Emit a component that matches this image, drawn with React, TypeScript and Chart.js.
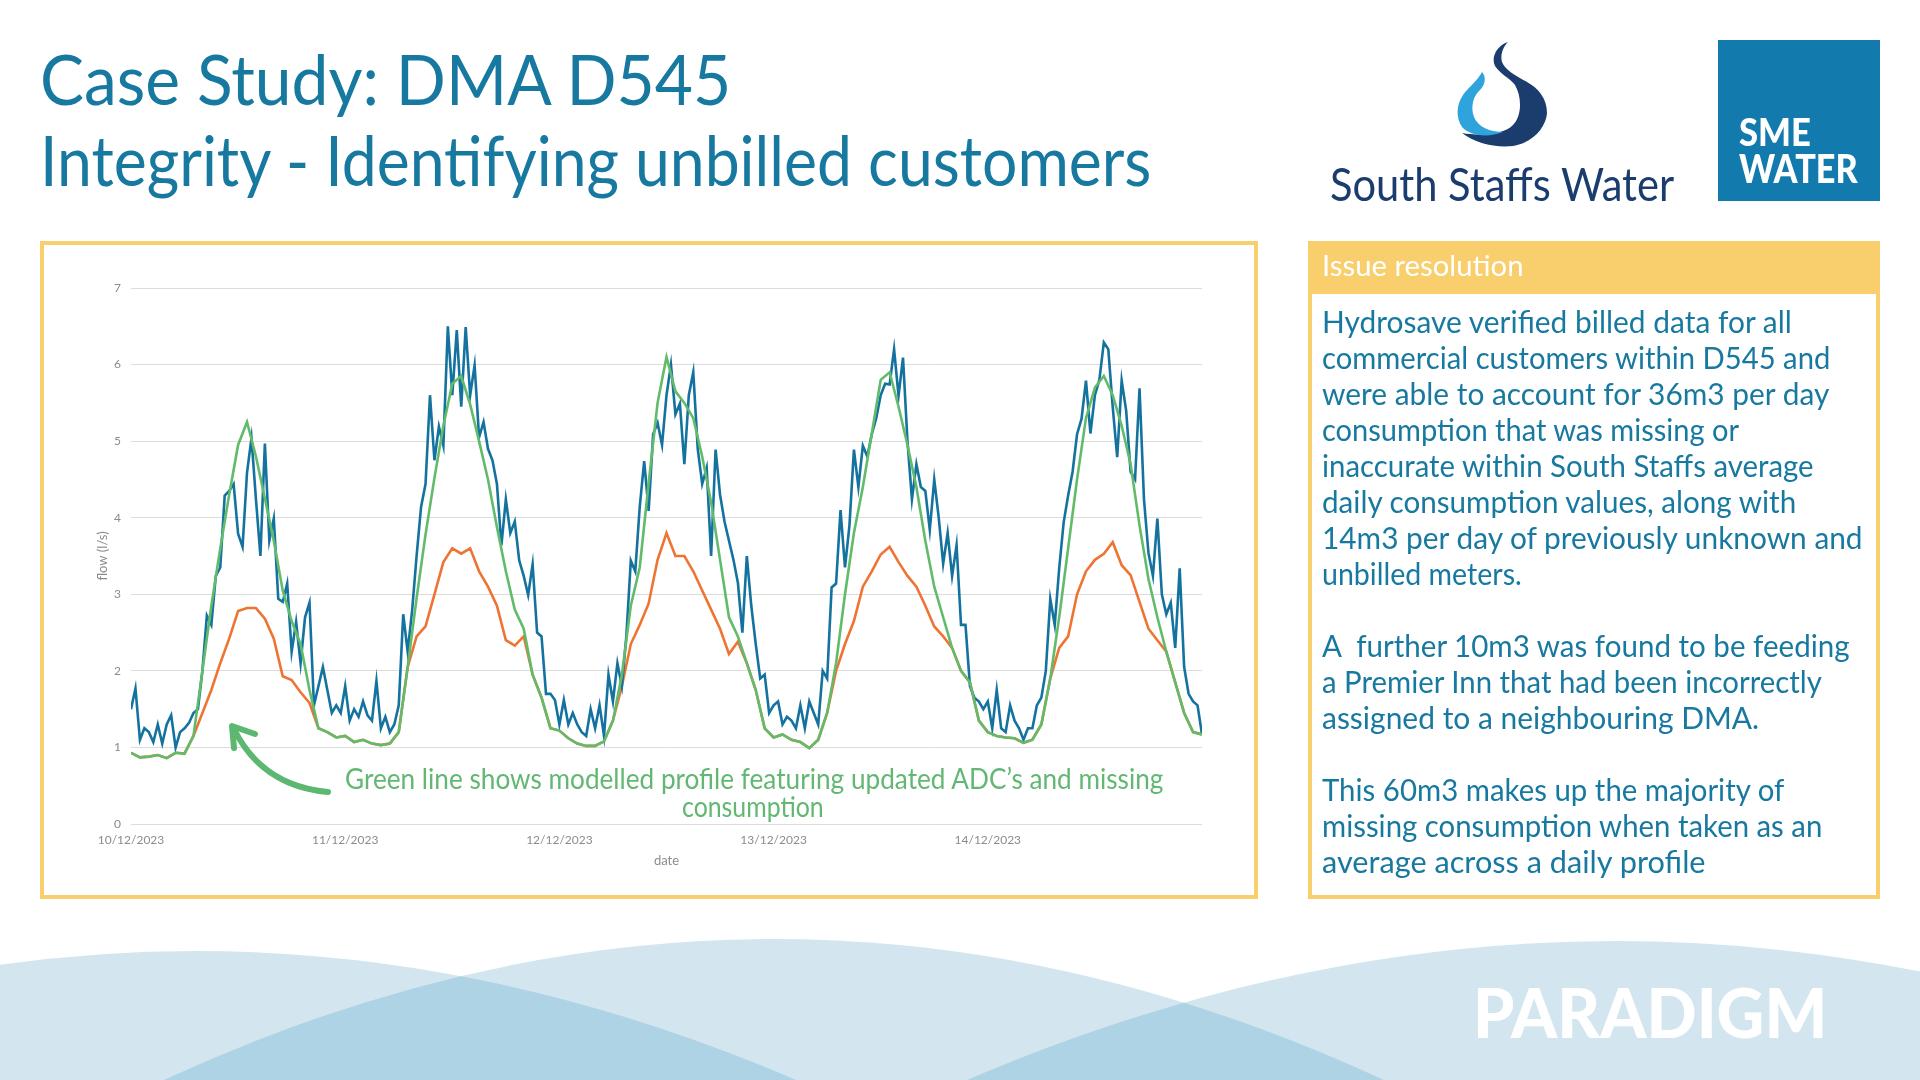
import React, { useEffect, useLayoutEffect, useRef } from 'react';
import { Chart, registerables } from 'chart.js';

Chart.register(...registerables);

// ---------- DATA ----------
const dateLabels = ['10/12/2023', '11/12/2023', '12/12/2023', '13/12/2023', '14/12/2023'];

// hourly modelled profile (green), hours 0..120
const greenModelled = [
  0.93, 0.87, 0.88, 0.9, 0.86, 0.93, 0.92, 1.15, 2.0, 2.85, 3.6, 4.3, 4.95, 5.25, 4.8, 4.25, 3.7, 3.05, 2.65, 2.35, 1.75, 1.25, 1.2, 1.13,
  1.15, 1.07, 1.1, 1.05, 1.03, 1.05, 1.2, 2.05, 2.95, 3.78, 4.52, 5.2, 5.75, 5.85, 5.48, 5.0, 4.5, 3.88, 3.3, 2.8, 2.55, 1.95, 1.65, 1.25,
  1.22, 1.12, 1.05, 1.02, 1.02, 1.08, 1.35, 1.95, 2.85, 3.35, 4.45, 5.5, 6.1, 5.65, 5.5, 5.3, 4.8, 4.2, 3.45, 2.7, 2.45, 2.1, 1.75, 1.25,
  1.13, 1.17, 1.1, 1.07, 0.99, 1.1, 1.45, 2.1, 3.0, 3.8, 4.4, 5.1, 5.8, 5.9, 5.45, 4.95, 4.4, 3.7, 3.1, 2.7, 2.3, 2.0, 1.85, 1.35,
  1.2, 1.15, 1.13, 1.12, 1.06, 1.1, 1.3, 1.9, 2.7, 3.6, 4.5, 5.3, 5.7, 5.85, 5.6, 5.2, 4.7, 3.9, 3.2, 2.7, 2.25, 1.85, 1.45, 1.2,
  1.17,
];

// hourly original profile (orange), hours 0..120
const orangeOriginal = [
  0.93, 0.87, 0.88, 0.9, 0.86, 0.93, 0.92, 1.15, 1.45, 1.75, 2.1, 2.42, 2.78, 2.82, 2.82, 2.68, 2.42, 1.93, 1.88, 1.72, 1.58, 1.25, 1.2, 1.13,
  1.15, 1.07, 1.1, 1.05, 1.03, 1.05, 1.2, 2.05, 2.45, 2.58, 3.0, 3.42, 3.6, 3.53, 3.6, 3.3, 3.1, 2.85, 2.4, 2.33, 2.45, 1.95, 1.65, 1.25,
  1.22, 1.12, 1.05, 1.02, 1.02, 1.08, 1.35, 1.8, 2.35, 2.6, 2.88, 3.45, 3.8, 3.5, 3.5, 3.3, 3.05, 2.8, 2.55, 2.22, 2.38, 2.1, 1.75, 1.25,
  1.13, 1.17, 1.1, 1.07, 0.99, 1.1, 1.45, 2.0, 2.35, 2.65, 3.1, 3.3, 3.52, 3.62, 3.42, 3.24, 3.1, 2.85, 2.58, 2.45, 2.3, 2.0, 1.85, 1.35,
  1.2, 1.15, 1.13, 1.12, 1.06, 1.1, 1.3, 1.9, 2.3, 2.45, 3.0, 3.3, 3.45, 3.53, 3.68, 3.38, 3.25, 2.9, 2.55, 2.4, 2.25, 1.85, 1.45, 1.2,
  1.17,
];

// half-hourly measured flow (blue), half-hours 0..240
const blueMeasured = [
  1.5, 1.77, 1.1, 1.25, 1.2, 1.07, 1.3, 1.05, 1.3, 1.42, 1.0, 1.2, 1.25, 1.32, 1.45, 1.5, 2.0, 2.72, 2.6, 3.24,
  3.35, 4.29, 4.35, 4.44, 3.79, 3.62, 4.59, 5.04, 4.24, 3.5, 4.97, 3.7, 3.99, 2.94, 2.9, 3.14, 2.25, 2.64, 2.1, 2.7,
  2.89, 1.55, 1.8, 2.05, 1.75, 1.45, 1.55, 1.45, 1.8, 1.35, 1.5, 1.4, 1.6, 1.42, 1.35, 1.87, 1.25, 1.4, 1.2, 1.3,
  1.55, 2.74, 2.25, 2.79, 3.5, 4.14, 4.44, 5.6, 4.75, 5.19, 4.94, 6.5, 5.6, 6.45, 5.45, 6.49, 5.6, 5.99, 5.05, 5.25,
  4.9, 4.75, 4.44, 3.64, 4.24, 3.8, 3.95, 3.44, 3.24, 2.99, 3.39, 2.5, 2.45, 1.7, 1.7, 1.62, 1.3, 1.62, 1.3, 1.45,
  1.3, 1.2, 1.15, 1.5, 1.25, 1.55, 1.15, 1.95, 1.6, 2.1, 1.8, 2.45, 3.44, 3.3, 4.14, 4.74, 4.09, 5.09, 5.24, 4.95,
  5.6, 6.0, 5.35, 5.49, 4.7, 5.6, 5.9, 4.9, 4.44, 4.65, 3.5, 4.89, 4.3, 3.95, 3.7, 3.45, 3.15, 2.5, 3.5, 2.85,
  2.35, 1.9, 1.95, 1.45, 1.55, 1.6, 1.3, 1.4, 1.35, 1.25, 1.55, 1.25, 1.6, 1.45, 1.3, 2.0, 1.9, 3.09, 3.14, 4.1,
  3.35, 3.9, 4.89, 4.4, 4.94, 4.8, 5.09, 5.3, 5.6, 5.75, 5.74, 6.2, 5.59, 6.09, 5.0, 4.24, 4.7, 4.4, 4.35, 3.84,
  4.5, 4.0, 3.4, 3.8, 3.24, 3.64, 2.6, 2.6, 1.8, 1.65, 1.6, 1.5, 1.6, 1.25, 1.75, 1.25, 1.2, 1.55, 1.35, 1.25,
  1.1, 1.25, 1.25, 1.55, 1.65, 2.0, 2.94, 2.6, 3.34, 3.94, 4.29, 4.6, 5.09, 5.29, 5.79, 5.1, 5.6, 5.8, 6.29, 6.2,
  5.44, 4.79, 5.79, 5.4, 4.6, 4.5, 5.69, 4.24, 3.54, 3.24, 3.99, 3.0, 2.74, 2.89, 2.3, 3.34, 2.05, 1.7, 1.6, 1.55,
  1.17,
];

const bodyLines = [
  'Hydrosave verified billed data for all',
  'commercial customers within D545 and',
  'were able to account for 36m3 per day',
  'consumption that was missing or',
  'inaccurate within South Staffs average',
  'daily consumption values, along with',
  '14m3 per day of previously unknown and',
  'unbilled meters.',
  '',
  'A  further 10m3 was found to be feeding',
  'a Premier Inn that had been incorrectly',
  'assigned to a neighbouring DMA.',
  '',
  'This 60m3 makes up the majority of',
  'missing consumption when taken as an',
  'average across a daily profile',
];
const bodyWidths = [470, 508, 507, 417, 492, 474, 541, 200, 0, 528, 500, 437, 0, 462, 500, 384];

// ---------- COLOURS ----------
const TEAL = '#1879a0';
const YELLOW = '#f8cf6c';
const BLUE_LINE = '#14729f';
const GREEN_LINE = '#62bb6b';
const ORANGE_LINE = '#ee7433';
const GREEN_TEXT = '#62b873';
const GREY = '#8c8c8c';

// ---------- Text fitted to a width ----------
type TxtProps = {
  x: number;
  base: number;
  fs: number;
  w: number;
  color: string;
  weight?: number;
  family?: string;
  text: string;
};

function Txt({ x, base, fs, w, color, weight = 400, family = 'Lato', text }: TxtProps) {
  const ref = useRef<HTMLDivElement>(null);
  useLayoutEffect(() => {
    const el = ref.current;
    if (!el) return;
    const apply = () => {
      el.style.transform = 'none';
      const nat = el.offsetWidth;
      if (nat > 0 && w > 0) el.style.transform = `scaleX(${w / nat})`;
    };
    apply();
    const fonts = (document as any).fonts;
    if (fonts && fonts.ready) fonts.ready.then(apply);
  }, [w, text, fs]);
  return (
    <div
      ref={ref}
      style={{
        position: 'absolute',
        left: x,
        top: base - 0.987 * fs,
        fontFamily: family,
        fontSize: fs,
        fontWeight: weight,
        lineHeight: `${1.2 * fs}px`,
        color,
        whiteSpace: 'pre',
        transformOrigin: '0 0',
        display: 'inline-block',
      }}
    >
      {text}
    </div>
  );
}

// ---------- Chart ----------
function FlowChart() {
  const ref = useRef<HTMLCanvasElement>(null);
  useEffect(() => {
    if (!ref.current) return;
    const tickFont = { family: 'Lato', size: 12 };
    const titleFont = { family: 'Lato', size: 13 };
    const chart = new Chart(ref.current, {
      type: 'line',
      data: {
        datasets: [
          {
            label: 'Modelled profile (updated ADCs + missing consumption)',
            data: greenModelled.map((y, i) => ({ x: i, y })),
            borderColor: GREEN_LINE,
            borderWidth: 2.6,
          },
          {
            label: 'Measured flow',
            data: blueMeasured.map((y, i) => ({ x: i / 2, y })),
            borderColor: BLUE_LINE,
            borderWidth: 2.6,
          },
          {
            label: 'Original modelled profile',
            data: orangeOriginal.map((y, i) => ({ x: i, y })),
            borderColor: ORANGE_LINE,
            borderWidth: 2.6,
          },
        ],
      },
      options: {
        animation: false,
        responsive: false,
        devicePixelRatio: 1,
        layout: { padding: { left: 45, right: 52, top: 43, bottom: 0 } },
        plugins: { legend: { display: false }, tooltip: { enabled: false } },
        elements: { point: { radius: 0 }, line: { tension: 0 } },
        scales: {
          x: {
            type: 'linear',
            min: 0,
            max: 120,
            grid: { display: false, drawTicks: false },
            border: { display: false },
            ticks: {
              stepSize: 24,
              autoSkip: false,
              maxRotation: 0,
              padding: 9,
              color: GREY,
              font: tickFont,
              callback: (v: any) => dateLabels[Math.round(Number(v) / 24)] ?? '',
            },
            title: { display: true, text: 'date', color: GREY, font: titleFont, padding: { top: 0, bottom: 26 } },
            afterFit: (s: any) => {
              s.height = 71;
            },
          },
          y: {
            min: 0,
            max: 7,
            grid: { color: '#dcdcdc', drawTicks: false, lineWidth: 1 },
            border: { display: false },
            ticks: { stepSize: 1, padding: 10, color: GREY, font: tickFont },
            title: { display: true, text: 'flow (l/s)', color: GREY, font: titleFont, padding: { top: 6, bottom: 0 } },
            afterFit: (s: any) => {
              s.width = 42;
            },
          },
        },
      } as any,
    });
    return () => chart.destroy();
  }, []);
  return (
    <canvas
      ref={ref}
      width={1210}
      height={650}
      style={{ position: 'absolute', left: 44, top: 245, width: 1210, height: 650 }}
    />
  );
}

// ---------- App ----------
export default function App() {
  const hill = (c: number, h: number, half: number) => `M ${c - half} 1080 Q ${c} ${1080 - 2 * h} ${c + half} 1080 Z`;
  const h1 = hill(196, 129, 600);
  const h2 = hill(774, 141, 610);
  const h3 = hill(1616, 139, 649);
  const bodyBase0 = 334;
  return (
    <div
      style={{
        position: 'fixed',
        left: 0,
        top: 0,
        width: 1920,
        height: 1080,
        background: '#ffffff',
        overflow: 'hidden',
      }}
    >
      {/* background waves & logos */}
      <svg width={1920} height={1080} viewBox="0 0 1920 1080" style={{ position: 'absolute', left: 0, top: 0 }}>
        <defs>
          <clipPath id="c1">
            <path d={h1} />
          </clipPath>
          <clipPath id="c2">
            <path d={h2} />
          </clipPath>
        </defs>
        <path d={h1} fill="#d3e6ef" />
        <path d={h2} fill="#d3e6ef" />
        <path d={h3} fill="#d3e6ef" />
        <path d={h2} fill="#aed3e4" clipPath="url(#c1)" />
        <path d={h3} fill="#aed3e4" clipPath="url(#c2)" />
        {/* South Staffs drop */}
        <path
          d="M1508,42 C1496,46 1491,58 1495,66 C1500,74 1510,78 1515,85 C1522,97 1522,116 1513,125 C1503,135 1480,136 1462,133 C1475,143 1495,148 1513,146 C1532,143 1546,128 1547,113 C1547,98 1538,88 1527,82 C1516,76 1505,70 1502,62 C1500,55 1503,47 1508,42 Z"
          fill="#1b3d6e"
        />
        <path
          d="M1482,72 C1478,80 1468,88 1463,95 C1456,105 1456,118 1462,127 C1470,136 1488,138 1503,132 C1490,132 1478,127 1474,117 C1470,106 1474,95 1480,90 C1486,84 1486,76 1482,72 Z"
          fill="#2fa4dc"
        />
        {/* SME box */}
        <rect x={1718} y={40} width={162} height={161} fill="#137aae" />
      </svg>

      {/* chart box */}
      <div
        style={{
          position: 'absolute',
          left: 40,
          top: 241,
          width: 1218,
          height: 658,
          boxSizing: 'border-box',
          border: `4px solid ${YELLOW}`,
          background: '#ffffff',
        }}
      />
      <FlowChart />
      <svg width={1920} height={1080} viewBox="0 0 1920 1080" style={{ position: 'absolute', left: 0, top: 0, pointerEvents: 'none' }}>
        <path d="M328,792 Q262,786 234,729" fill="none" stroke="#5cb870" strokeWidth={6} strokeLinecap="round" />
        <path d="M255,734 L232,726 L234,748" fill="none" stroke="#5cb870" strokeWidth={6} strokeLinecap="round" strokeLinejoin="round" />
      </svg>
      <Txt x={345} base={790} fs={28} w={818} color={GREEN_TEXT} text={'Green line shows modelled profile featuring updated ADC\u2019s and missing'} />
      <Txt x={682} base={818} fs={28} w={142} color={GREEN_TEXT} text="consumption" />

      {/* text box */}
      <div
        style={{
          position: 'absolute',
          left: 1308,
          top: 241,
          width: 572,
          height: 658,
          boxSizing: 'border-box',
          border: `4px solid ${YELLOW}`,
          background: '#ffffff',
        }}
      />
      <div style={{ position: 'absolute', left: 1308, top: 241, width: 572, height: 53, background: YELLOW }} />
      <Txt x={1322} base={277} fs={29} w={201} color="#ffffff" text="Issue resolution" />
      {bodyLines.map((t, i) =>
        t ? <Txt key={i} x={1322} base={bodyBase0 + 36 * i} fs={31} w={bodyWidths[i]} color={TEAL} text={t} /> : null
      )}

      {/* title */}
      <Txt x={40} base={105} fs={70} w={691} color={TEAL} text="Case Study: DMA D545" />
      <Txt x={40} base={186} fs={70} w={1111} color={TEAL} text="Integrity - Identifying unbilled customers" />

      {/* logos text */}
      <Txt x={1330} base={201} fs={46} w={344} color="#1b3d6e" text="South Staffs Water" />
      <Txt x={1739} base={147} fs={38} w={72} color="#ffffff" weight={900} text="SME" />
      <Txt x={1739} base={183} fs={40} w={119} color="#ffffff" weight={900} text="WATER" />

      {/* footer */}
      <Txt x={1473} base={1038} fs={68} w={354} color="#ffffff" weight={900} text="PARADIGM" />
    </div>
  );
}
